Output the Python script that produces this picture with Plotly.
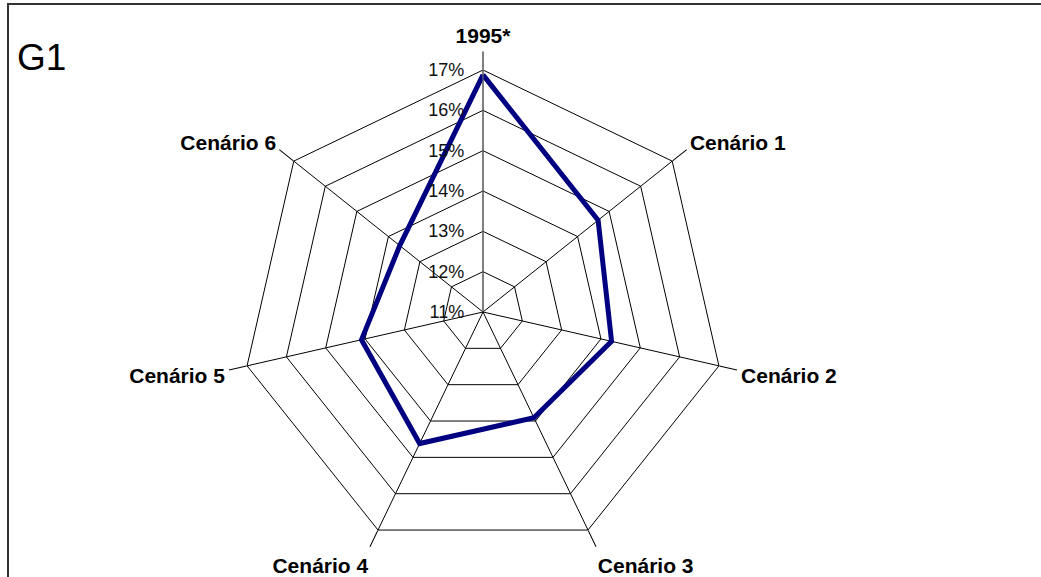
import plotly.graph_objects as go

# categories clockwise from the top
categorias = ["1995*", "Cenário 1", "Cenário 2", "Cenário 3",
              "Cenário 4", "Cenário 5", "Cenário 6"]
# share (%)
valores = [16.88, 14.65, 14.27, 13.91, 14.62, 14.09, 13.64]
r_ticks = [11, 12, 13, 14, 15, 16, 17]

W, H = 1041, 577
cx, cy, rad = 483, 312, 242

fig = go.Figure()
fig.add_trace(go.Scatterpolar(
    r=valores + valores[:1],
    theta=categorias + categorias[:1],
    mode="lines",
    line=dict(color="#000080", width=5),
    hoverinfo="skip",
    showlegend=False))

fig.update_layout(
    width=W, height=H,
    margin=dict(l=0, r=0, t=0, b=0),
    paper_bgcolor="white",
    plot_bgcolor="white",
    font=dict(family="Liberation Sans, Arial, sans-serif", color="black"),
    polar=dict(
        domain=dict(x=[(cx - rad) / W, (cx + rad) / W],
                    y=[(H - cy - rad) / H, (H - cy + rad) / H]),
        bgcolor="white",
        gridshape="linear",
        radialaxis=dict(
            range=[11, 17],
            tickvals=r_ticks,
            ticktext=[f"{v}%" for v in r_ticks],
            angle=90,
            tickangle=90,
            side="counterclockwise",
            showline=True, linecolor="#808080", linewidth=1,
            gridcolor="black", gridwidth=1,
            ticks="outside", ticklen=12, tickcolor="rgba(0,0,0,0)",
            tickfont=dict(size=18, color="#111111"),
        ),
        angularaxis=dict(
            direction="clockwise",
            rotation=90,
            showline=True, linecolor="black", linewidth=1,
            gridcolor="black", gridwidth=1,
            ticks="outside", ticklen=18, tickcolor="black", tickwidth=1,
            tickvals=categorias,
            ticktext=[f"<b>{c}</b>" for c in categorias],
            tickfont=dict(size=21, family="Liberation Sans, Arial, sans-serif"),
        ),
    ),
    shapes=[
        dict(type="line", xref="paper", yref="paper",
             x0=7 / W, x1=1, y0=1 - 4 / H, y1=1 - 4 / H,
             line=dict(color="#333333", width=2)),
        dict(type="line", xref="paper", yref="paper",
             x0=8 / W, x1=8 / W, y0=0, y1=1 - 4 / H,
             line=dict(color="#333333", width=2)),
    ],
    annotations=[
        dict(text="G1", xref="paper", yref="paper",
             x=15 / W, y=1 - 57 / H, xanchor="left", yanchor="middle",
             showarrow=False, font=dict(size=37, color="black")),
    ],
)

fig.write_html("out.html",
               config={"displayModeBar": False, "staticPlot": True},
               post_script="document.body.style.margin='0px';")
